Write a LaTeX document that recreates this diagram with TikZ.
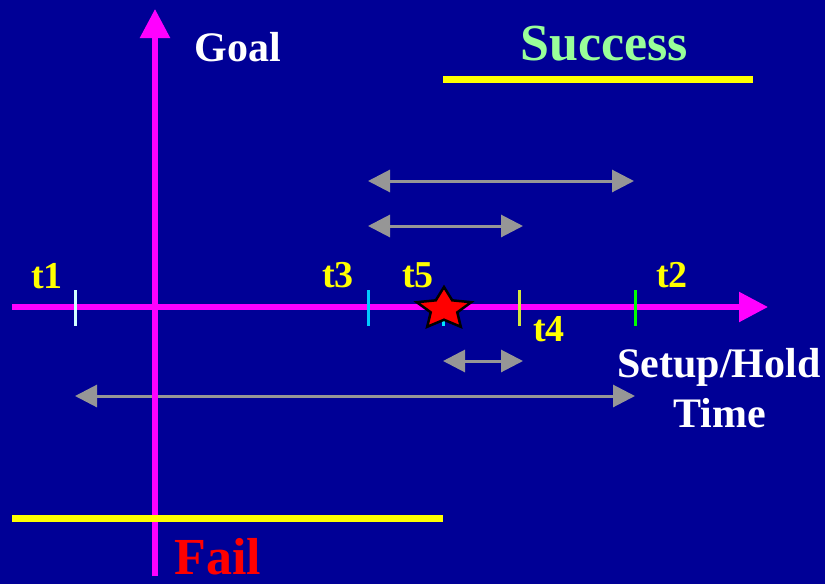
\documentclass[tikz,border=0pt]{standalone}
\usepackage{fontspec}
\setmainfont{Liberation Serif}
\usetikzlibrary{arrows.meta, shapes.geometric}
\definecolor{slideblue}{RGB}{0, 0, 150}
\definecolor{axismagenta}{RGB}{255, 0, 255}
\definecolor{spangray}{RGB}{150, 150, 150}
\definecolor{limityellow}{RGB}{255, 255, 0}
\definecolor{successgreen}{RGB}{153, 255, 153}
\definecolor{tickwhite}{RGB}{210, 255, 255}
\definecolor{tickcyan}{RGB}{0, 200, 255}
\definecolor{tickaqua}{RGB}{0, 230, 255}
\definecolor{tickolive}{RGB}{210, 230, 60}
\definecolor{tickgreen}{RGB}{0, 255, 0}
\tikzset{
  axisline/.style={draw=axismagenta, line width=5.5pt, -{Triangle[length=29pt, width=29pt]}},
  spanarrow/.style={draw=spangray, line width=3pt, {Triangle[length=22pt, width=22pt]}-{Triangle[length=22pt, width=22pt]}},
  limitbar/.style={draw=limityellow, line width=7pt},
  tickmark/.style={line width=3pt},
  tlabel/.style={anchor=base, inner sep=0pt, text=limityellow, font=\fontsize{38}{40}\selectfont\bfseries},
  wordlabel/.style={anchor=base, inner sep=0pt, font=\fontsize{42}{46}\selectfont\bfseries},
  biglabel/.style={anchor=base, inner sep=0pt, text depth=0pt, font=\fontsize{52}{56}\selectfont\bfseries},
  starmark/.style={star, star points=5, star point ratio=2.05, minimum size=44pt, inner sep=0pt, xscale=1.3, draw=black, line width=2.5pt, fill=red}
}

\begin{document}
\begin{tikzpicture}[x=1pt, y=-1pt]
    \fill[slideblue] (0,0) rectangle (825,584);
    % Span arrows between the time points
    \coordinate (a1) at (368,181); \coordinate (a2) at (634,181);
    \coordinate (b1) at (368,226); \coordinate (b2) at (523,226);
    \coordinate (c1) at (443,361); \coordinate (c2) at (523,361);
    \coordinate (d1) at (75,396);  \coordinate (d2) at (635,396);
    \draw[spanarrow] (a1) -- (a2);
    \draw[spanarrow] (b1) -- (b2);
    \draw[spanarrow] (c1) -- (c2);
    \draw[spanarrow] (d1) -- (d2);
    % Axes
    \coordinate (xstart) at (12,307); \coordinate (xend) at (768,307);
    \coordinate (ystart) at (155,576); \coordinate (yend) at (155,9);
    \draw[axisline] (xstart) -- (xend);
    \draw[axisline] (ystart) -- (yend);
    % Success / fail limits
    \coordinate (s1) at (443,79); \coordinate (s2) at (753,79);
    \coordinate (f1) at (12,518); \coordinate (f2) at (443,518);
    \draw[limitbar] (s1) -- (s2);
    \draw[limitbar] (f1) -- (f2);
    % Ticks on the time axis
    \foreach \name/\x/\col in {t1/75/tickwhite, t3/368/tickcyan, t5/443/tickaqua, t4/519/tickolive, t2/635/tickgreen} {
        \draw[tickmark, \col] (\x,290) -- (\x,326);
    }
    \node[starmark] (star5) at (444,309) {};
    % Labels
    \node[tlabel] (lab1) at (47,288) {t1};
    \node[tlabel] (lab3) at (338,287) {t3};
    \node[tlabel] (lab5) at (418,287) {t5};
    \node[tlabel] (lab4) at (549,341) {t4};
    \node[tlabel] (lab2) at (672,287) {t2};
    \node[wordlabel, text=white] (goal) at (238,61) {Goal};
    \node[biglabel, text=successgreen] (success) at (604,60) {Success};
    \node[wordlabel, text=white] (setup) at (719,377) {Setup/Hold};
    \node[wordlabel, text=white] (time) at (720,427) {Time};
    \node[biglabel, text=red] (fail) at (218,574) {Fail};
\end{tikzpicture}
\end{document}
